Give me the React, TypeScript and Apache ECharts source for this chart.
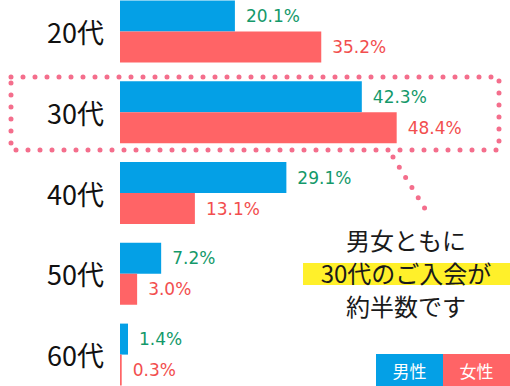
import React, { useEffect, useRef } from "react";
import * as echarts from "echarts";

const categories = ["20代", "30代", "40代", "50代", "60代"];
const seriesNames = ["男性", "女性"];
const maleValues = [20.1, 42.3, 29.1, 7.2, 1.4];
const femaleValues = [35.2, 48.4, 13.1, 3.0, 0.3];
const noteLines = ["男女ともに", "30代のご入会が", "約半数です"];

const BLUE = "#04a0e6";
const RED = "#ff6466";
const GREEN_LABEL = "#14996a";
const RED_LABEL = "#f24e4e";
const DOT = "#f46e8c";
const JP = '"Noto Sans CJK JP", "Noto Sans", sans-serif';
const OFF = 10;

export default function App() {
  const ref = useRef<HTMLDivElement>(null);
  useEffect(() => {
    if (!ref.current) return;
    const chart = echarts.init(ref.current, undefined, { renderer: "svg" });
    const dotStyle = {
      stroke: DOT,
      fill: "none",
      lineWidth: 5,
      lineDash: [0, 12],
      lineCap: "round",
    };
    const labelCfg = (color: string) => ({
      show: true,
      position: "right",
      distance: 11,
      formatter: (p: any) => p.value.toFixed(1) + "%",
      color,
      fontSize: 17,
      fontFamily: '"DejaVu Sans", sans-serif',
    });
    chart.setOption({
      animation: false,
      grid: { left: 120, top: OFF - 9, width: 343, height: 404 },
      xAxis: { type: "value", min: 0, max: 60, show: false },
      yAxis: {
        type: "category",
        data: categories,
        inverse: true,
        axisLine: { show: false },
        axisTick: { show: false },
        splitLine: { show: false },
        axisLabel: { fontSize: 27, color: "#111", margin: 16, fontFamily: JP },
      },
      series: [
        {
          name: seriesNames[0],
          type: "bar",
          data: maleValues,
          barWidth: 31,
          barGap: "0%",
          itemStyle: { color: BLUE },
          label: labelCfg(GREEN_LABEL),
        },
        {
          name: seriesNames[1],
          type: "bar",
          data: femaleValues,
          barWidth: 31,
          barGap: "0%",
          itemStyle: { color: RED },
          label: labelCfg(RED_LABEL),
        },
      ],
      graphic: [
        {
          type: "group",
          x: 0,
          y: OFF,
          children: [
            { type: "rect", shape: { x: 11, y: 77, width: 488, height: 73 }, style: dotStyle, silent: true },
            { type: "line", shape: { x1: 393, y1: 157, x2: 427, y2: 212 }, style: dotStyle, silent: true },
            { type: "rect", shape: { x: 303, y: 263, width: 207, height: 22 }, style: { fill: "#fff02a" } },
            ...noteLines.map((t, i) => ({
              type: "text",
              x: 406,
              y: 239 + i * 33,
              style: {
                text: t,
                fill: "#1a1a1a",
                font: `24px ${JP}`,
                textAlign: "center",
                textVerticalAlign: "middle",
              },
            })),
            ...seriesNames.map((n, i) => ({
              type: "group",
              x: 376 + i * 67,
              y: 354,
              children: [
                { type: "rect", shape: { x: 0, y: 0, width: 67, height: 32 }, style: { fill: i === 0 ? BLUE : RED } },
                {
                  type: "text",
                  x: 33.5,
                  y: 16,
                  style: {
                    text: n,
                    fill: "#fff",
                    font: `17px ${JP}`,
                    textAlign: "center",
                    textVerticalAlign: "middle",
                  },
                },
              ],
            })),
          ],
        },
      ],
    });
    return () => chart.dispose();
  }, []);
  return (
    <div
      ref={ref}
      style={{ position: "absolute", left: 0, top: -OFF, width: 510, height: 386 + 2 * OFF, background: "#fff" }}
    />
  );
}
